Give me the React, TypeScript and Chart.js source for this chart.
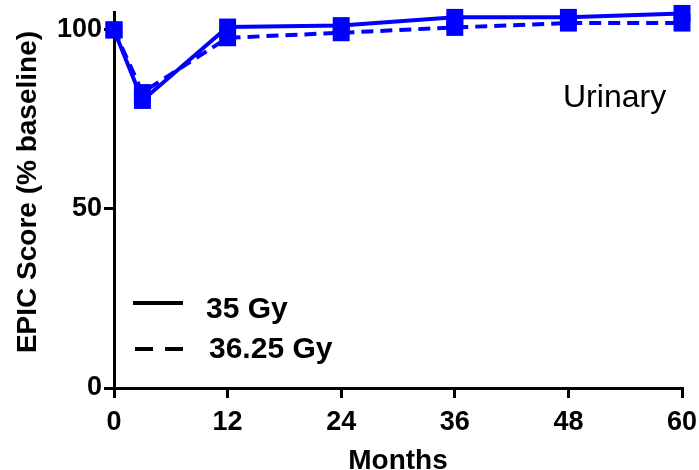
import React, { useEffect, useRef } from "react";
import { Chart, registerables } from "chart.js";

Chart.register(...registerables);

const months = [0, 3, 12, 24, 36, 48, 60];
const dose35 = [100, 80.3, 100.8, 101.2, 103.5, 103.5, 104.6];
const dose3625 = [100, 82.5, 97.8, 99.2, 100.7, 101.9, 101.9];
const seriesLabels = ["35 Gy", "36.25 Gy"];
const xTicks = [0, 12, 24, 36, 48, 60];
const yTicks = [0, 50, 100];
const yTitle = "EPIC Score (% baseline)";
const xTitle = "Months";
const panelLabel = "Urinary";

const FONT = "'Liberation Sans', Arial, Helvetica, sans-serif";
const BLUE = "#0000ff";

const overlayPlugin = {
  id: "overlayText",
  afterDraw(chart: any) {
    const ctx = chart.ctx as CanvasRenderingContext2D;
    const { left, right, top, bottom } = chart.chartArea;
    ctx.save();
    ctx.fillStyle = "#000";
    ctx.strokeStyle = "#000";

    // Y axis title
    ctx.save();
    ctx.font = `bold 28px ${FONT}`;
    ctx.translate(28, (top + bottom) / 2 - 8);
    ctx.rotate(-Math.PI / 2);
    ctx.textAlign = "center";
    ctx.textBaseline = "middle";
    ctx.fillText(yTitle, 0, 0);
    ctx.restore();

    // X axis title
    ctx.font = `bold 28px ${FONT}`;
    ctx.textAlign = "center";
    ctx.textBaseline = "alphabetic";
    ctx.fillText(xTitle, (left + right) / 2, 469);

    // Panel label
    ctx.font = `32px ${FONT}`;
    ctx.textAlign = "left";
    ctx.fillText(panelLabel, 563, 107);

    // Legend
    const labels = chart.data.datasets.map((d: any) => d.label);
    ctx.lineWidth = 4;
    ctx.setLineDash([]);
    ctx.beginPath();
    ctx.moveTo(133, 303);
    ctx.lineTo(183, 303);
    ctx.stroke();
    ctx.setLineDash([18, 12]);
    ctx.beginPath();
    ctx.moveTo(135, 349);
    ctx.lineTo(183, 349);
    ctx.stroke();
    ctx.setLineDash([]);
    ctx.font = `bold 30px ${FONT}`;
    ctx.textAlign = "left";
    ctx.fillText(labels[0], 206, 318);
    ctx.fillText(labels[1], 209, 358);
    ctx.restore();
  },
};

export default function App() {
  const ref = useRef<HTMLCanvasElement>(null);
  useEffect(() => {
    const canvas = ref.current!;
    const chart = new Chart(canvas, {
      type: "line",
      data: {
        datasets: [
          {
            label: seriesLabels[0],
            data: months.map((m, i) => ({ x: m, y: dose35[i] })),
            borderColor: BLUE,
            backgroundColor: BLUE,
            borderWidth: 4,
            pointStyle: "rect",
            pointRadius: 12,
            pointBorderWidth: 0,
            pointBackgroundColor: BLUE,
            tension: 0,
            clip: false,
          },
          {
            label: seriesLabels[1],
            data: months.map((m, i) => ({ x: m, y: dose3625[i] })),
            borderColor: BLUE,
            backgroundColor: BLUE,
            borderWidth: 4,
            borderDash: [12, 7],
            pointStyle: "rect",
            pointRadius: 12,
            pointBorderWidth: 0,
            pointBackgroundColor: BLUE,
            tension: 0,
            clip: false,
          },
        ],
      },
      options: {
        animation: false,
        responsive: false,
        devicePixelRatio: 1,
        layout: { padding: { top: 11, right: 17, left: 0, bottom: 0 } },
        plugins: {
          legend: { display: false },
          tooltip: { enabled: false },
        },
        scales: {
          x: {
            type: "linear",
            min: 0,
            max: 60,
            afterBuildTicks: (s: any) => {
              s.ticks = xTicks.map((v) => ({ value: v }));
            },
            afterFit: (s: any) => {
              s.height = 82;
              s.paddingLeft = 0;
              s.paddingRight = 0;
            },
            ticks: {
              color: "#000",
              font: { family: FONT, size: 27, weight: "bold" },
              padding: 8,
              maxRotation: 0,
              autoSkip: false,
            },
            grid: {
              drawOnChartArea: false,
              drawTicks: true,
              tickLength: 10,
              tickWidth: 3,
              tickColor: "#000",
              color: "#000",
              lineWidth: 3,
            },
            border: { display: true, color: "#000", width: 3 },
          },
          y: {
            type: "linear",
            min: 0,
            max: 105,
            afterBuildTicks: (s: any) => {
              s.ticks = yTicks.map((v) => ({ value: v }));
            },
            afterFit: (s: any) => {
              s.width = 114;
              s.paddingTop = 0;
              s.paddingBottom = 0;
            },
            ticks: {
              color: "#000",
              font: { family: FONT, size: 27, weight: "bold" },
              padding: 2,
            },
            grid: {
              drawOnChartArea: false,
              drawTicks: true,
              tickLength: 10,
              tickWidth: 3,
              tickColor: "#000",
              color: "#000",
              lineWidth: 3,
            },
            border: { display: true, color: "#000", width: 3 },
          },
        },
      },
      plugins: [overlayPlugin],
    } as any);
    return () => chart.destroy();
  }, []);
  return (
    <div style={{ position: "absolute", left: 0, top: 0, width: 699, height: 470 }}>
      <canvas ref={ref} width={699} height={470} style={{ display: "block" }} />
    </div>
  );
}
